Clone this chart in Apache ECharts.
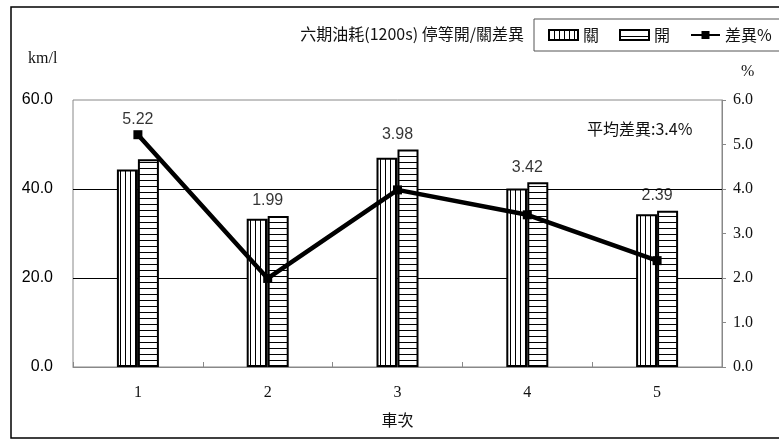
<!DOCTYPE html>
<html><head><meta charset="utf-8">
<script src="https://cdn.jsdelivr.net/npm/echarts@6/dist/echarts.min.js"></script>
<style>html,body{margin:0;padding:0;background:#fff}#c{width:779px;height:440px}</style>
</head><body><div id="c"></div>
<script>
const categories = ['1', '2', '3', '4', '5'];
const closedVals = [44.4, 33.3, 47.0, 40.1, 34.3];   // 關
const openVals = [46.7, 33.96, 48.9, 41.5, 35.1];    // 開
const diffPct = [5.22, 1.99, 3.98, 3.42, 2.39];      // 差異%
const leftTicks = [0, 20, 40, 60];
const rightTicks = [0, 1, 2, 3, 4, 5, 6];

const avg = diffPct.reduce((a, b) => a + b, 0) / diffPct.length;
const ratio = leftTicks[leftTicks.length - 1] / rightTicks[rightTicks.length - 1];
const labelAnchors = categories.map((c, i) => Math.max(closedVals[i], openVals[i], diffPct[i] * ratio));

function stripes(vertical) {
  const c = document.createElement('canvas');
  if (vertical) { c.width = 5; c.height = 4; } else { c.width = 4; c.height = 6; }
  const g = c.getContext('2d');
  g.fillStyle = '#fff'; g.fillRect(0, 0, c.width, c.height);
  g.fillStyle = '#000';
  if (vertical) g.fillRect(0, 0, 1, c.height); else g.fillRect(0, 0, c.width, 1);
  return c;
}

const chart = echarts.init(document.getElementById('c'), null, { renderer: 'canvas' });
const cjk = '"Noto Sans CJK TC", "Noto Sans", sans-serif';
chart.setOption({
  animation: false,
  backgroundColor: '#fff',
  title: {
    text: '六期油耗(1200s) 停等開/關差異',
    right: 255, top: 26, padding: 0,
    textStyle: { fontSize: 16, fontWeight: 'normal', color: '#111', fontFamily: cjk }
  },
  legend: {
    data: [{ name: '關', icon: 'rect' }, { name: '開', icon: 'rect' }, { name: '差異%' }],
    left: 534, top: 19, width: 300, orient: 'horizontal',
    padding: [8, 24, 8, 14],
    itemWidth: 29, itemHeight: 10, itemGap: 20,
    borderColor: '#555', borderWidth: 1,
    textStyle: { fontSize: 16, color: '#111', fontFamily: cjk }
  },
  graphic: [
    { type: 'rect', shape: { x: 11, y: 7, width: 800, height: 431 }, style: { fill: 'none', stroke: '#000', lineWidth: 1.5 }, silent: true, z: -1 },
    { type: 'text', left: 28, top: 51, style: { text: 'km/l', font: '16px "Liberation Serif", serif', fill: '#111' } },
    { type: 'text', left: 741, top: 64, style: { text: '%', font: '16px "Liberation Serif", serif', fill: '#111' } },
    { type: 'text', left: 587, top: 121, style: { text: '平均差異:' + avg.toFixed(1) + '%', font: '16px ' + cjk, fill: '#111' } }
  ],
  grid: { left: 73, right: 57, top: 100, bottom: 73, show: true, borderColor: '#888', borderWidth: 1 },
  xAxis: {
    type: 'category', data: categories,
    name: '車次', nameLocation: 'middle', nameGap: 45,
    nameTextStyle: { fontSize: 16, color: '#111', fontFamily: cjk },
    axisLine: { lineStyle: { color: '#888', width: 1 } },
    axisTick: { show: true, inside: true, length: 5, lineStyle: { color: '#888' } },
    axisLabel: { fontSize: 16, color: '#111', fontFamily: '"Liberation Serif", serif', margin: 18 }
  },
  yAxis: [
    {
      type: 'value', min: 0, max: 60, interval: 20,
      axisLine: { show: false }, axisTick: { show: false },
      axisLabel: { fontSize: 16, color: '#000', fontFamily: '"Liberation Sans", sans-serif', margin: 20, formatter: v => v.toFixed(1) },
      splitLine: { show: true, showMinLine: false, showMaxLine: false, lineStyle: { color: '#000', width: 1 } }
    },
    {
      type: 'value', min: 0, max: 6, interval: 1, position: 'right',
      axisLine: { show: true, lineStyle: { color: '#888' } },
      axisTick: { show: true, inside: false, length: 4, lineStyle: { color: '#888' } },
      axisLabel: { fontSize: 16, color: '#111', fontFamily: '"Liberation Serif", serif', margin: 11, formatter: v => v.toFixed(1) },
      splitLine: { show: false }
    }
  ],
  series: [
    {
      name: '關', type: 'bar', data: closedVals, barWidth: 21, barGap: '0%',
      itemStyle: { color: { image: stripes(true), repeat: 'repeat' }, borderColor: '#000', borderWidth: 2 }
    },
    {
      name: '開', type: 'bar', data: openVals, barWidth: 21, barGap: '0%',
      itemStyle: { color: { image: stripes(false), repeat: 'repeat' }, borderColor: '#000', borderWidth: 2 }
    },
    {
      name: '差異%', type: 'line', yAxisIndex: 1, data: diffPct, z: 5,
      symbol: 'rect', symbolSize: 9,
      lineStyle: { color: '#000', width: 4.5 },
      itemStyle: { color: '#000' }
    },
    {
      name: 'labels', type: 'scatter', yAxisIndex: 0, data: labelAnchors, symbolSize: 0, z: 6,
      silent: true,
      label: {
        show: true, position: 'top', distance: 7,
        formatter: p => diffPct[p.dataIndex].toFixed(2),
        fontSize: 16, color: '#000', fontFamily: '"Liberation Sans", sans-serif'
      }
    }
  ]
});
</script></body></html>
